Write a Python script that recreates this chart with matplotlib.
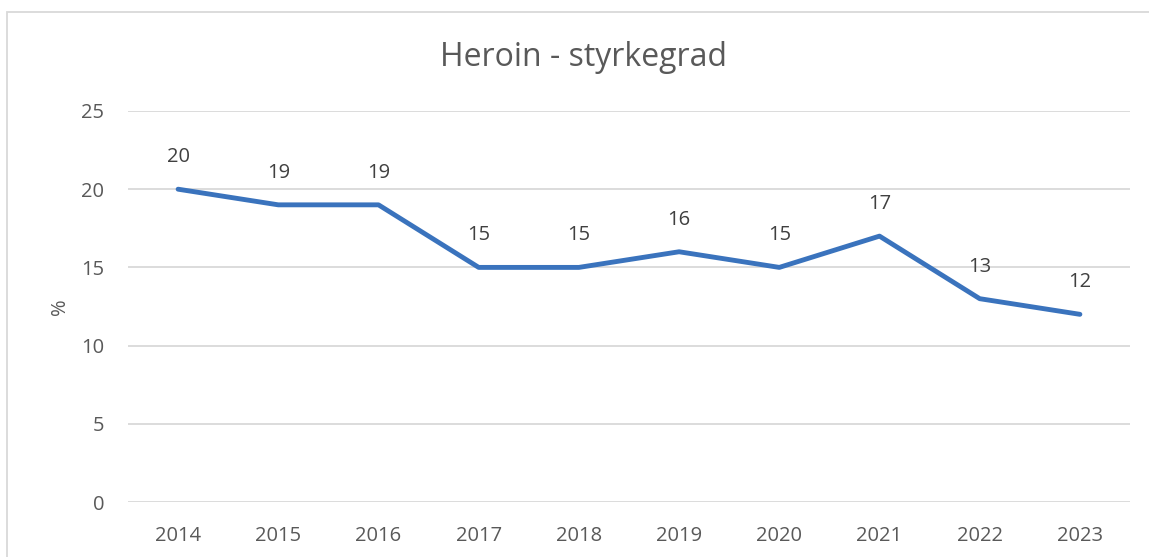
import matplotlib
matplotlib.use("Agg")
import matplotlib.pyplot as plt
from matplotlib.patches import Rectangle

years = ["2014", "2015", "2016", "2017", "2018", "2019", "2020", "2021", "2022", "2023"]
values = [20, 19, 19, 15, 15, 16, 15, 17, 13, 12]
title = "Heroin - styrkegrad"
ylabel = "%"
yticks = [0, 5, 10, 15, 20, 25]

W, H = 1149, 557
fig = plt.figure(figsize=(W / 100, H / 100), dpi=100)
plt.rcParams['font.family'] = ['Open Sans', 'DejaVu Sans']

# chart-area border (cropped on right and bottom)
fig.patches.append(Rectangle((7 / W, -0.1), 2.0, (H - 12) / H + 0.1, transform=fig.transFigure,
                             fill=False, edgecolor='#d9d9d9', linewidth=1.3))

ax = fig.add_axes([128 / W, 55 / H, (1130 - 128) / W, (502 - 111) / H])
x = list(range(len(years)))
ax.plot(x, values, color='#3a73bd', linewidth=3.5, solid_capstyle='round', solid_joinstyle='round', zorder=3)
for xi, v in zip(x, values):
    ax.annotate(str(v), (xi, v), xytext=(0, 23), textcoords='offset points', ha='center', va='center',
                fontsize=14.5, color='#404040')

ax.set_xlim(-0.5, len(years) - 0.5)
ax.set_ylim(0, 25)
ax.set_yticks(yticks)
ax.set_xticks(x)
ax.set_xticklabels(years)
ax.grid(axis='y', color='#d9d9d9', linewidth=1.3)
ax.set_axisbelow(True)
for s in ax.spines.values():
    s.set_visible(False)
ax.tick_params(length=0, labelsize=14.5, colors='#595959', pad=17)
ax.tick_params(axis='y', pad=17)
ax.set_ylabel(ylabel, fontsize=14.5, color='#595959', labelpad=8)
fig.text(583 / W, 1 - 57 / H, title, ha='center', va='center', fontsize=23, color='#595959')

fig.savefig("out.png", dpi=100)
